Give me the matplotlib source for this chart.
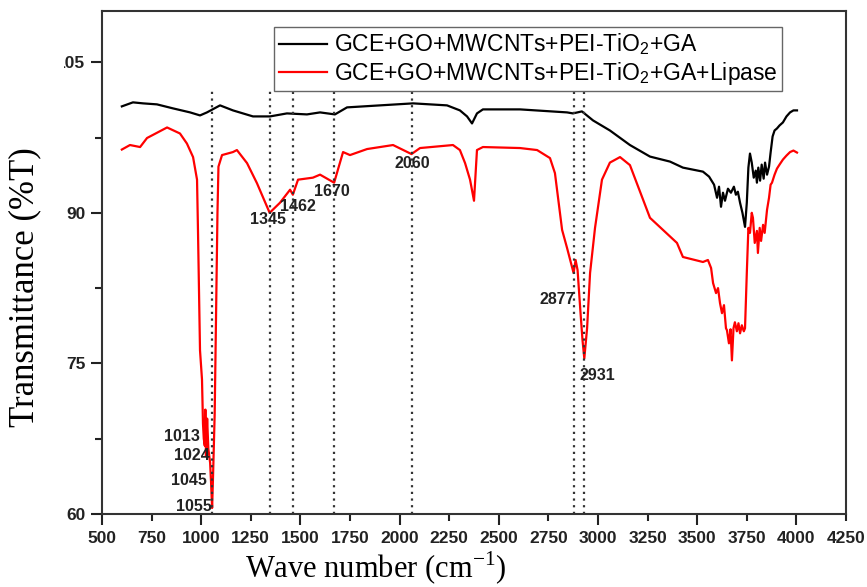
import numpy as np
import matplotlib.pyplot as plt
from matplotlib.patches import Rectangle
from matplotlib.ticker import MultipleLocator

# FTIR spectra (wavenumber in cm-1, transmittance in %T)
black_wn = [600, 656, 707, 777, 858, 944, 994, 1029, 1095, 1160, 1261, 1347,
            1432, 1533, 1599, 1674, 1735, 1901, 2068, 2239, 2304, 2340, 2365,
            2390, 2420, 2607, 2844, 2874, 2919, 2975, 3060, 3161, 3262, 3363,
            3428, 3529, 3560, 3585, 3600, 3610, 3620, 3630, 3640, 3655, 3670,
            3685, 3695, 3705, 3716, 3728, 3741, 3750, 3758, 3766, 3775, 3785,
            3795, 3801, 3808, 3817, 3825, 3835, 3842, 3852, 3862, 3870, 3880,
            3890, 3902, 3915, 3932, 3950, 3968, 3985, 4003]
black_t = [100.6, 101.0, 100.9, 100.8, 100.4, 100.0, 99.7, 100.0, 100.7, 100.2,
           99.6, 99.6, 99.9, 99.8, 100.0, 99.8, 100.5, 100.7, 100.9, 100.7,
           100.2, 99.6, 98.9, 99.9, 100.3, 100.3, 100.0, 99.9, 100.1, 99.2,
           98.2, 96.75, 95.6, 95.1, 94.5, 94.1, 93.6, 92.8, 91.5, 92.6, 90.6,
           92.0, 91.2, 92.4, 92.0, 92.6, 91.8, 92.1, 91.0, 90.0, 88.6, 91.0,
           94.5, 95.9, 95.0, 93.5, 94.2, 93.0, 94.5, 93.2, 94.8, 93.4, 95.0,
           93.8, 94.6, 96.0, 97.6, 98.2, 98.4, 98.7, 99.0, 99.6, 100.0, 100.2,
           100.2]

red_wn = [600, 641, 692, 727, 828, 893, 928, 959, 979, 984, 994, 1004, 1009,
          1013, 1018, 1021, 1024, 1030, 1036, 1045, 1050, 1055, 1060, 1068,
          1075, 1082, 1087, 1105, 1160, 1180, 1231, 1281, 1332, 1345, 1397,
          1448, 1462, 1488, 1563, 1599, 1670, 1715, 1750, 1836, 1967, 2060,
          2103, 2269, 2304, 2330, 2355, 2375, 2390, 2420, 2607, 2693, 2758,
          2783, 2819, 2844, 2877, 2887, 2897, 2912, 2922, 2931, 2945, 2960,
          2985, 3020, 3060, 3111, 3161, 3262, 3398, 3428, 3529, 3554, 3570,
          3580, 3595, 3605, 3615, 3625, 3635, 3645, 3650, 3660, 3668, 3675,
          3683, 3690, 3700, 3708, 3716, 3725, 3735, 3741, 3750, 3758, 3766,
          3775, 3781, 3790, 3801, 3806, 3815, 3822, 3832, 3840, 3852, 3862,
          3870, 3877, 3890, 3902, 3915, 3932, 3950, 3968, 3985, 4003]
red_t = [96.3, 96.75, 96.55, 97.45, 98.5, 97.9, 96.9, 95.55, 93.3, 88.0, 76.3,
         73.4, 69.0, 67.5, 66.8, 70.4, 65.8, 69.5, 66.5, 65.1, 63.0, 60.6,
         64.0, 70.0, 80.0, 90.0, 94.6, 95.75, 96.05, 96.25, 94.95, 92.95, 90.6,
         90.0, 91.0, 92.3, 91.8, 93.3, 93.5, 93.8, 93.0, 96.05, 95.75, 96.35,
         96.75, 95.85, 96.45, 96.75, 96.25, 94.95, 93.3, 91.2, 96.25, 96.55,
         96.45, 96.25, 95.45, 93.95, 88.3, 86.5, 84.0, 85.3, 84.3, 80.0, 77.3,
         75.5, 78.5, 84.0, 88.5, 93.3, 95.0, 95.55, 94.75, 89.5, 87.0, 85.6,
         85.1, 85.3, 84.5, 83.0, 82.0, 82.5, 81.0, 80.0, 80.8, 78.5, 78.3, 77.0,
         78.4, 75.3, 78.5, 79.1, 78.2, 79.0, 78.0, 78.8, 78.2, 78.5, 84.0, 88.5,
         88.0, 90.0, 89.5, 87.0, 88.2, 86.0, 88.5, 87.2, 88.8, 88.0, 90.3, 91.5,
         92.8, 93.0, 93.8, 94.4, 94.8, 95.3, 95.7, 96.05, 96.2, 96.0]

series_labels = ['GCE+GO+MWCNTs+PEI-TiO$_\\mathregular{2}$+GA',
                 'GCE+GO+MWCNTs+PEI-TiO$_\\mathregular{2}$+GA+Lipase']

# assigned bands on the lipase spectrum
peak_wn = [1013, 1024, 1045, 1055, 1345, 1462, 1670, 2060, 2877, 2931]
# dotted guide lines
guide_wn = [1055, 1345, 1462, 1670, 2060, 2877, 2931]

y_ticks = [60, 75, 90, 105]

# label offsets from the band position, in pixels (dx, dy)
label_offsets = {1013: (-22, 2), 1024: (-14, 0), 1045: (-21, -18),
                 1055: (-18, 1), 1345: (-2, -7), 1462: (5, -12),
                 1670: (-2, -9), 2060: (1, -9), 2877: (-16, -26),
                 2931: (13, -17)}

W, H = 867, 587
fig = plt.figure(figsize=(W / 100, H / 100), dpi=100)
ax = fig.add_axes([102 / W, (H - 514) / H, 744 / W, 503 / H])

ax.plot(black_wn, black_t, color='black', lw=1.6, label=series_labels[0])
ax.plot(red_wn, red_t, color='#ff0000', lw=1.6, label=series_labels[1])

guide_top = 102.4
ax.vlines(guide_wn, 60, guide_top, colors='#333333', linestyles=(0, (1, 2)),
          lw=1.6, zorder=3)

for wn in peak_wn:
    t = np.interp(wn, red_wn, red_t)
    dx, dy = label_offsets[wn]
    ax.annotate(str(wn), (wn, t), xytext=(dx, dy), textcoords='offset pixels',
                ha='center', va='center', fontsize=11.5, fontweight='bold',
                family='Liberation Sans', color='#222222', zorder=5)

ax.set_xlim(500, 4250)
ax.set_ylim(60, 110.1)

ax.xaxis.set_major_locator(MultipleLocator(500))
ax.xaxis.set_minor_locator(MultipleLocator(250))
ax.xaxis.set_minor_formatter(lambda v, pos: f'{v:.0f}' if v % 500 else '')
ax.set_yticks(y_ticks)
ax.yaxis.set_minor_locator(MultipleLocator(7.5))

ax.tick_params(which='major', direction='out', length=8, width=1.5,
               labelsize=12.5, pad=4, colors='#222222')
ax.tick_params(which='minor', direction='out', length=5, width=1.5,
               labelsize=12.5, pad=7, colors='#222222')
for lab in ax.get_xticklabels(which='both') + ax.get_yticklabels():
    lab.set_fontweight('bold')
    lab.set_family('Liberation Sans')

for sp in ax.spines.values():
    sp.set_linewidth(1.5)
    sp.set_color('#333333')

leg = ax.legend(loc='upper left', bbox_to_anchor=(274 / W, 1 - 27 / H),
                bbox_transform=fig.transFigure, borderaxespad=0,
                prop={'family': 'Liberation Sans', 'size': 16.5},
                handlelength=2.1, handletextpad=0.3, labelspacing=0.1,
                borderpad=0.2, fancybox=False, framealpha=1,
                edgecolor='#666666')
leg.get_frame().set_linewidth(1.0)

# white panel behind the y-axis title
fig.add_artist(Rectangle((0, 1 - 450 / H), 64 / W, 450 / H,
                         transform=fig.transFigure, facecolor='white',
                         edgecolor='none', zorder=5))
fig.text(25 / W, 1 - 287 / H, 'Transmittance (%T)', rotation=90,
         ha='center', va='center', family='Liberation Serif', fontsize=25,
         zorder=6)
fig.text(376 / W, 1 - 568 / H, 'Wave number (cm$^{\\mathregular{-1}}$)',
         ha='center', va='center', family='Liberation Serif', fontsize=22)

fig.savefig('out.png', dpi=100)
